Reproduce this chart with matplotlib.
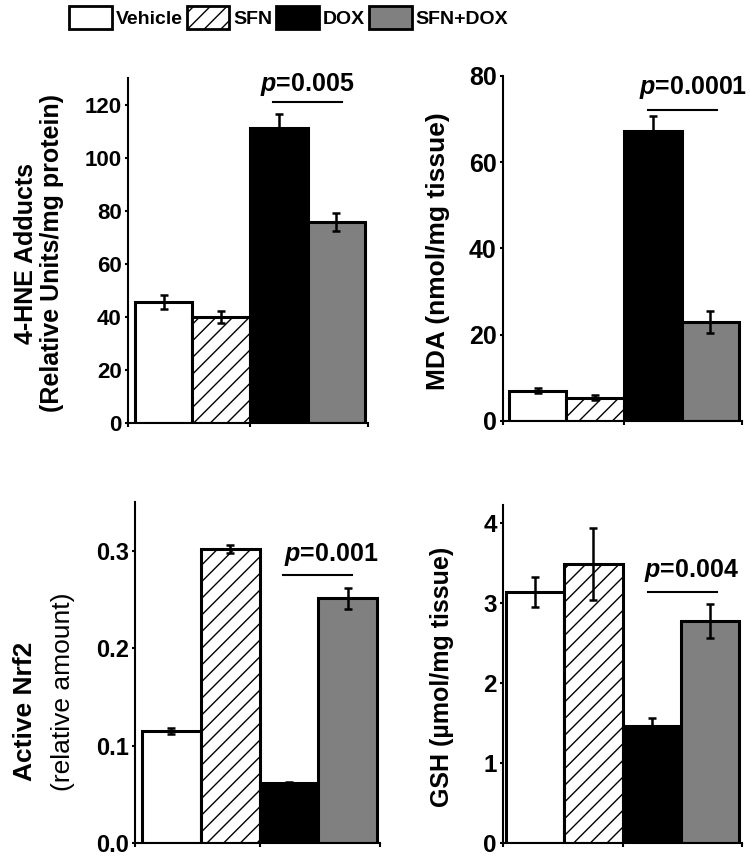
import matplotlib
matplotlib.use("Agg")
import matplotlib.pyplot as plt
from matplotlib.patches import Patch
from matplotlib import font_manager

# groups and colours
groups = ["Vehicle", "SFN", "DOX", "SFN+DOX"]
colors = ["white", "white", "black", "#808080"]
hatches = ["", "//", "", ""]

# panel data
hne = [45.7, 40.0, 111.3, 75.8]
hne_err = [2.6, 2.3, 5.3, 3.5]
mda = [7.0, 5.4, 67.3, 23.0]
mda_err = [0.6, 0.6, 3.5, 2.6]
nrf2 = [0.115, 0.302, 0.062, 0.251]
nrf2_err = [0.003, 0.004, 0.001, 0.011]
gsh = [3.14, 3.49, 1.47, 2.78]
gsh_err = [0.19, 0.45, 0.09, 0.21]

names = [f.name for f in font_manager.fontManager.ttflist]
base = "Liberation Sans" if "Liberation Sans" in names else "DejaVu Sans"

plt.rcParams["font.family"] = [base, "DejaVu Sans"]
plt.rcParams["font.weight"] = "bold"
plt.rcParams["hatch.linewidth"] = 1.0
plt.rcParams["mathtext.fontset"] = "custom"
plt.rcParams["mathtext.it"] = base + ":italic:bold"
plt.rcParams["mathtext.rm"] = base + ":bold"

fig = plt.figure(figsize=(7.5, 8.57), dpi=100)


def panel(rect, vals, errs, xlim, ylim, yticks, ticklabels, fs, pline, ptext):
    ax = fig.add_axes(rect)
    x = range(len(vals))
    for i in x:
        ax.bar(i, vals[i], width=1.0, color=colors[i], edgecolor="black",
               linewidth=2.2, hatch=hatches[i], zorder=2)
    ax.errorbar(list(x), vals, yerr=errs, fmt="none", ecolor="black",
                elinewidth=1.8, capsize=3, capthick=1.8, zorder=3)
    ax.set_xlim(*xlim)
    ax.set_ylim(*ylim)
    ax.set_yticks(yticks)
    ax.set_yticklabels(ticklabels, fontsize=fs, fontweight="bold")
    ax.set_xticks([xlim[0], 1.5, xlim[1]])
    ax.set_xticklabels([])
    ax.spines["top"].set_visible(False)
    ax.spines["right"].set_visible(False)
    for s in ["left", "bottom"]:
        ax.spines[s].set_linewidth(1.5)
    ax.tick_params(axis="y", length=2.5, width=1.5, pad=2)
    ax.tick_params(axis="x", length=3, width=1.5)
    # significance bar
    ax.plot([pline[0], pline[1]], [pline[2], pline[2]], color="black",
            linewidth=1.5, clip_on=False)
    ax.text(ptext[0], ptext[1], r"$p$=" + ptext[2], ha="center", va="center",
            fontsize=18, fontweight="bold", clip_on=False)
    return ax


panel([128/750, 1-423/857, 240/750, 345/857], hne, hne_err,
      (-0.62, 3.55), (0, 130), [0, 20, 40, 60, 80, 100, 120],
      ["0", "20", "40", "60", "80", "100", "120"], 16,
      (1.9, 3.1, 120.8), (2.5, 127.5, "0.005"))

panel([503/750, 1-421/857, 239/750, 345/857], mda, mda_err,
      (-0.6, 3.55), (0, 80), [0, 20, 40, 60, 80],
      ["0", "20", "40", "60", "80"], 18,
      (1.92, 3.12, 72.2), (2.7, 77.3, "0.0001"))

panel([135/750, 1-843/857, 245/750, 341/857], nrf2, nrf2_err,
      (-0.62, 3.55), (0, 0.35), [0.0, 0.1, 0.2, 0.3],
      ["0.0", "0.1", "0.2", "0.3"], 17,
      (1.9, 3.07, 0.275), (2.72, 0.296, "0.001"))

panel([503/750, 1-843/857, 239/750, 338/857], gsh, gsh_err,
      (-0.55, 3.55), (0, 4.23), [0, 1, 2, 3, 4],
      ["0", "1", "2", "3", "4"], 17.5,
      (1.94, 3.12, 3.14), (2.69, 3.41, "0.004"))

# y labels
fig.text(39/750, 1-253/857, "4-HNE Adducts\n(Relative Units/mg protein)",
         rotation=90, ha="center", va="center", multialignment="center",
         fontsize=18, fontweight="bold", linespacing=1.1)
fig.text(438/750, 1-251/857, "MDA (nmol/mg tissue)", rotation=90,
         ha="center", va="center", fontsize=19, fontweight="bold")
fig.text(25/750, 1-711/857, "Active Nrf2", rotation=90,
         ha="center", va="center", fontsize=19, fontweight="bold")
fig.text(63/750, 1-692/857, "(relative amount)", rotation=90,
         ha="center", va="center", fontsize=19, fontweight="normal")
fig.text(442/750, 1-677/857, "GSH (\u00b5mol/mg tissue)", rotation=90,
         ha="center", va="center", fontsize=18, fontweight="bold")

# legend
handles = [Patch(facecolor=colors[i], edgecolor="black", hatch=hatches[i],
                 linewidth=2) for i in range(len(groups))]
fig.legend(handles, groups, loc="center", bbox_to_anchor=(0.385, 1-17.5/857),
           ncol=4, frameon=False, handlelength=2.2, handleheight=1.5,
           handletextpad=0.2, columnspacing=0.2, borderaxespad=0,
           prop={"weight": "bold", "size": 14})

fig.savefig("out.png", dpi=100)
